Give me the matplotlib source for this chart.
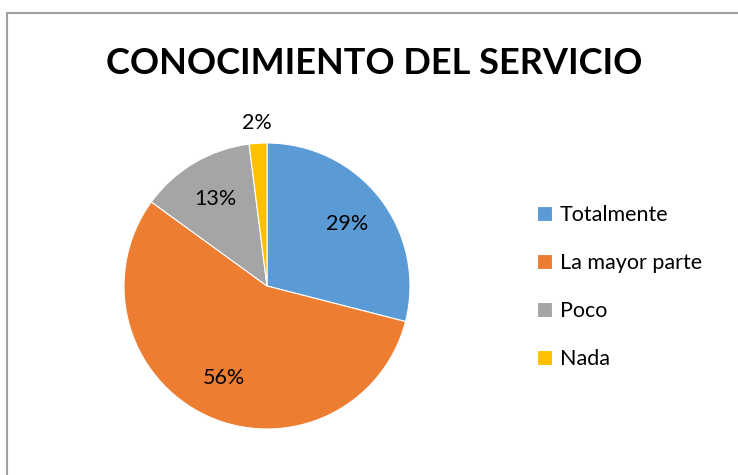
import matplotlib
matplotlib.use("Agg")
import matplotlib.pyplot as plt
from matplotlib.patches import Rectangle
import numpy as np

categories = ["Totalmente", "La mayor parte", "Poco", "Nada"]
values = [29, 56, 13, 2]
colors = ["#5B9BD5", "#ED7D31", "#A5A5A5", "#FFC000"]
title = "CONOCIMIENTO DEL SERVICIO"

plt.rcParams['font.family'] = ['Lato', 'DejaVu Sans']

W, H = 738, 475
fig = plt.figure(figsize=(W / 100, H / 100), dpi=100)

# chart border
fig.patches.append(Rectangle((7 / W, -0.1), 1.2, (H - 13) / H + 0.1, transform=fig.transFigure,
                             fill=False, edgecolor="#A0A0A0", linewidth=1.5))

cx, cy, r = 267, 286, 143
ax = fig.add_axes([(cx - r) / W, (H - cy - r) / H, 2 * r / W, 2 * r / H])
wedges, texts, autotexts = ax.pie(values, colors=colors, startangle=90, counterclock=False,
                                  autopct=lambda p: f"{p:.0f}%", pctdistance=0.71,
                                  wedgeprops=dict(edgecolor="white", linewidth=0.8),
                                  textprops=dict(fontsize=15.5, color="#000000"))
ax.set_aspect("equal")
ax.set_xlim(-1, 1)
ax.set_ylim(-1, 1)

# small slice label outside
w = wedges[3]
ang = np.deg2rad((w.theta1 + w.theta2) / 2)
autotexts[3].set_position((1.14 * np.cos(ang), 1.14 * np.sin(ang)))

fig.text(374 / W, 1 - 63 / H, title, ha="center", va="center", fontsize=26, fontweight="bold")

fig.legend(wedges, categories, loc="upper left", bbox_to_anchor=(537 / W, 1 - 205 / H),
           frameon=False, fontsize=15.5, handlelength=0.7, handleheight=0.7,
           handletextpad=0.35, labelspacing=1.3, borderpad=0, borderaxespad=0)

fig.savefig("out.png", dpi=100)
